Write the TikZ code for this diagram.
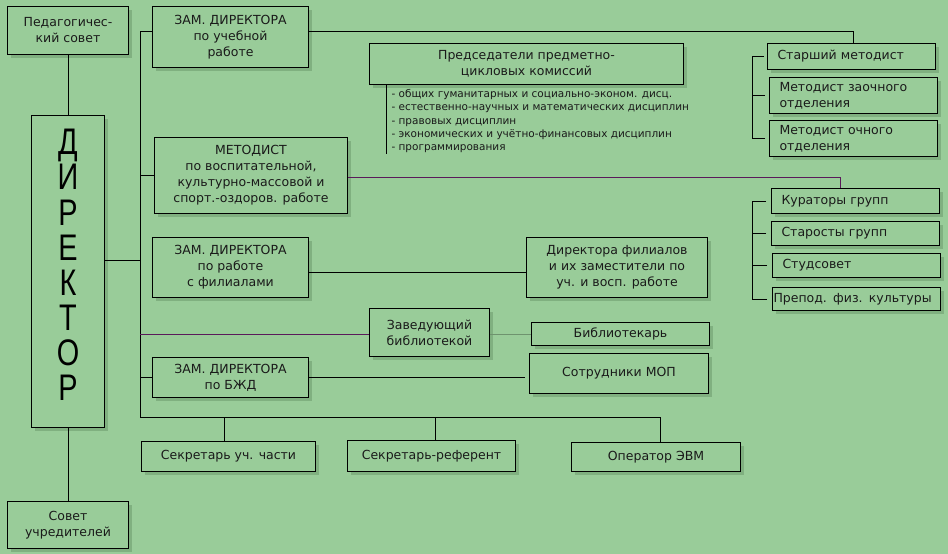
\documentclass[tikz,border=0pt]{standalone}
\usepackage{fontspec}
\setmainfont{DejaVu Sans}
\newfontfamily\bigfont[FakeStretch=0.78]{Liberation Sans}
\usepackage{xcolor}
\usepackage{tikz}
\usetikzlibrary{positioning, shadows}
\definecolor{bg}{HTML}{99CC99}
\definecolor{shade}{HTML}{80B080}
\definecolor{ink}{HTML}{1A1A1A}
\definecolor{linepurple}{HTML}{5A1A5A}
\definecolor{linegrey}{HTML}{6E936E}
\tikzstyle{box} = [rectangle, anchor=north west, draw=black, line width=1pt, fill=bg, text=ink, align=center, inner sep=0pt, font=\fontsize{12.5}{16}\selectfont, drop shadow={shadow xshift=3pt, shadow yshift=-3pt, fill=shade, opacity=1}]
\tikzstyle{sidebox} = [box, align=left, inner xsep=10pt, text width=148pt]
\tikzstyle{list} = [anchor=north west, align=left, inner sep=0pt, text=ink, font=\fontsize{10.5}{13.3}\selectfont]

\begin{document}
\begin{tikzpicture}[x=1pt, y=-1pt, line width=1pt]
		\path[use as bounding box, fill=bg] (0,0) rectangle (948,554);
		% left column
		\node (Ped Council)[box, minimum width=121pt, minimum height=48pt] at (7,6) {Педагогичес-\\кий совет};
		\node (Director)[box, minimum width=73pt, minimum height=312pt, label={[font=\bigfont\fontsize{37}{35.1}\selectfont, align=center, text=black, yshift=6.5pt]center:{Д\\И\\Р\\Е\\К\\Т\\О\\Р}}] at (31,115) {};
		\node (Founders)[box, minimum width=121pt, minimum height=47pt] at (7,501) {Совет\\учредителей};
		% deputies
		\node (Zam Study)[box, minimum width=156pt, minimum height=61pt] at (152,6) {ЗАМ. ДИРЕКТОРА\\по учебной\\работе};
		\node (Methodist)[box, minimum width=193pt, minimum height=76pt] at (154,137) {МЕТОДИСТ\\по воспитательной,\\культурно-массовой и\\спорт.-оздоров. работе};
		\node (Zam Branches)[box, minimum width=156pt, minimum height=60pt] at (152,237) {ЗАМ. ДИРЕКТОРА\\по работе\\с филиалами};
		\node (Zam Safety)[box, minimum width=156pt, minimum height=40pt] at (152,357) {ЗАМ. ДИРЕКТОРА\\по БЖД};
		% middle
		\node (Chairs)[box, minimum width=314pt, minimum height=41pt] at (369,43) {Председатели предметно-\\цикловых комиссий};
		\node (Subjects)[list] at (391,89) {- общих гуманитарных и социально-эконом. дисц.\\- естественно-научных и математических дисциплин\\- правовых дисциплин\\- экономических и учётно-финансовых дисциплин\\- программирования};
		\node (Branch Heads)[box, minimum width=181pt, minimum height=60pt] at (526,237) {Директора филиалов\\и их заместители по\\уч. и восп. работе};
		\node (Library Head)[box, minimum width=120pt, minimum height=48pt] at (369,308) {Заведующий\\библиотекой};
		\node (Librarian)[box, minimum width=178pt, minimum height=23pt] at (531,322) {Библиотекарь};
		\node (Staff)[box, minimum width=179pt, minimum height=40pt] at (529,353) {Сотрудники МОП};
		% right column
		\node (Senior)[sidebox, minimum height=26pt] at (767,43) {Старший методист};
		\node (Extramural)[sidebox, minimum height=36pt, below = 7pt of Senior.south west, anchor=north west, xshift=2pt] {Методист заочного\\отделения};
		\node (Fulltime)[sidebox, minimum height=36pt, below = 6pt of Extramural.south west, anchor=north west] {Методист очного\\отделения};
		\node (Curators)[sidebox, minimum height=25pt] at (771,188) {Кураторы групп};
		\node (Monitors)[sidebox, minimum height=24pt, below = 7pt of Curators.south west, anchor=north west] {Старосты групп};
		\node (Students)[sidebox, minimum height=24pt, below = 7pt of Monitors.south west, anchor=north west, xshift=1pt] {Студсовет};
		\node (Sport)[box, align=left, inner xsep=1pt, text width=166pt, minimum height=23pt, below = 9pt of Students.south west, anchor=north west] {Препод. физ. культуры};
		% bottom row
		\node (Sec Study)[box, minimum width=174pt, minimum height=30pt] at (141,441) {Секретарь уч. части};
		\node (Sec Ref)[box, minimum width=168pt, minimum height=31pt] at (347,440) {Секретарь-референт};
		\node (Operator)[box, minimum width=169pt, minimum height=29pt] at (571,442) {Оператор ЭВМ};
		\coordinate (Bus Top) at (140,31);
		\coordinate (Bus Bottom) at (140,417);
		\coordinate (Brace) at (752,0);
		\draw (Ped Council) -- (Director);
		\draw (Director) -- (Founders);
		\draw ([yshift=11pt]Director.east) -- ([yshift=11pt]Director.east -| Bus Top);
		\draw (Bus Top) -- (Bus Bottom) -| ([xshift=4pt]Operator.north);
		\draw (Bus Top) -- (Zam Study.west |- Bus Top);
		\draw (Zam Study.east |- Bus Top) -| ([xshift=2pt]Senior.north);
		\draw (Methodist.west -| Bus Top) -- (Methodist.west);
		\draw [linepurple] ([yshift=-2pt]Methodist.east) -| ([xshift=-15pt]Curators.north);
		\draw ([yshift=-5pt]Zam Branches.east) -- ([yshift=-5pt]Zam Branches.east -| Branch Heads.west);
		\draw [linepurple] ([yshift=-2pt]Library Head.west -| Bus Top) -- ([yshift=-2pt]Library Head.west);
		\draw [linegrey] ([yshift=-2pt]Library Head.east) -- ([yshift=-2pt]Library Head.east -| Librarian.west);
		\draw (Zam Safety.west -| Bus Top) -- (Zam Safety.west);
		\draw [shorten >=4pt] (Zam Safety.east) -- (Zam Safety.east -| Staff.west);
		\draw ([xshift=-4pt]Sec Study.north) -- ([xshift=-4pt]Sec Study.north |- Bus Bottom);
		\draw ([xshift=4pt]Sec Ref.north) -- ([xshift=4pt]Sec Ref.north |- Bus Bottom);
		\draw ([xshift=-5pt]Subjects.north west |- Chairs.south) -- ([xshift=-5pt]Subjects.south west);
		% brackets
		\draw (Senior.west -| Brace) -- (Fulltime.west -| Brace);
		\draw ([xshift=-3pt]Senior.west) -- (Senior.west -| Brace);
		\draw ([xshift=-4pt]Extramural.west) -- (Extramural.west -| Brace);
		\draw ([xshift=-4pt]Fulltime.west) -- (Fulltime.west -| Brace);
		\draw (Curators.west -| Brace) -- (Sport.west -| Brace);
		\draw ([xshift=-5pt]Curators.west) -- (Curators.west -| Brace);
		\draw ([xshift=-5pt]Monitors.west) -- (Monitors.west -| Brace);
		\draw ([xshift=-5pt]Students.west) -- (Students.west -| Brace);
		\draw ([xshift=-5pt]Sport.west) -- (Sport.west -| Brace);
	\end{tikzpicture}
\end{document}
